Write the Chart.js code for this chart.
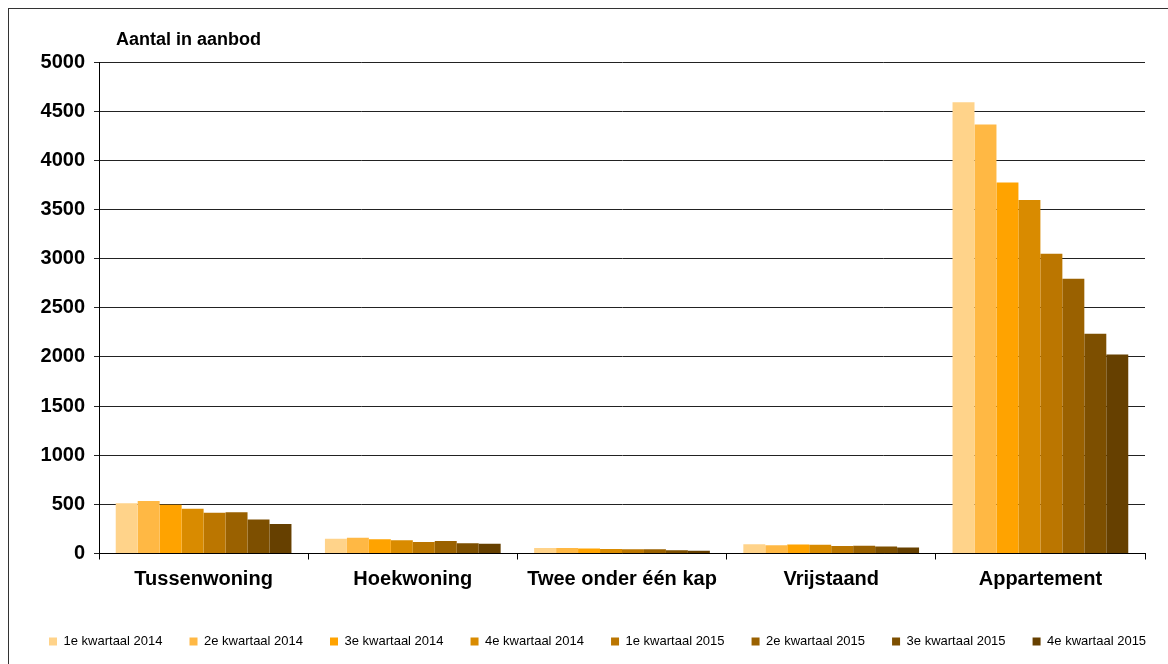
<!DOCTYPE html>
<html>
<head>
<meta charset="utf-8">
<script src="https://cdn.jsdelivr.net/npm/chart.js@4/dist/chart.umd.min.js"></script>
<style>
    html, body { margin: 0; padding: 0; background: #fff; overflow: hidden; }
    #frame { position: absolute; left: 8px; top: 8px; width: 1200px; height: 700px; border: 1px solid #333; }
    #chart { position: absolute; left: 0; top: 0; }
</style>
</head>
<body>
<div id="frame"></div>
<canvas id="chart" width="1200" height="664"></canvas>
<script>
// Categories and series
const categories = ['Tussenwoning', 'Hoekwoning', 'Twee onder één kap', 'Vrijstaand', 'Appartement'];
const seriesNames = ['1e kwartaal 2014', '2e kwartaal 2014', '3e kwartaal 2014', '4e kwartaal 2014',
    '1e kwartaal 2015', '2e kwartaal 2015', '3e kwartaal 2015', '4e kwartaal 2015'];
const q1_2014 = [510, 150, 55, 95, 4590];
const q2_2014 = [535, 160, 55, 85, 4365];
const q3_2014 = [495, 145, 52, 92, 3775];
const q4_2014 = [455, 135, 47, 88, 3595];
const q1_2015 = [415, 118, 44, 76, 3050];
const q2_2015 = [420, 128, 44, 80, 2795];
const q3_2015 = [345, 105, 34, 71, 2235];
const q4_2015 = [300, 98, 27, 62, 2025];
const yTicks = [0, 500, 1000, 1500, 2000, 2500, 3000, 3500, 4000, 4500, 5000];

const seriesValues = [q1_2014, q2_2014, q3_2014, q4_2014, q1_2015, q2_2015, q3_2015, q4_2015];
const colors = ['#FFD38A', '#FFB844', '#FFA300', '#D98B00', '#BB7600', '#9A6100', '#7D4F00', '#664000'];
const fontFamily = '"Liberation Sans", Arial, sans-serif';

// Title text above the value axis
const axisTitlePlugin = {
    id: 'axisTitle',
    afterDraw(chart) {
        const ctx = chart.ctx;
        ctx.save();
        ctx.font = 'bold 18px ' + fontFamily;
        ctx.fillStyle = '#000';
        ctx.textBaseline = 'middle';
        ctx.textAlign = 'left';
        ctx.fillText('Aantal in aanbod', 116, 40);
        ctx.restore();
    }
};

new Chart(document.getElementById('chart'), {
    type: 'bar',
    data: {
        labels: categories,
        datasets: seriesNames.map((name, i) => ({
            label: name,
            data: seriesValues[i],
            backgroundColor: colors[i],
            borderWidth: 0,
            categoryPercentage: 0.84,
            barPercentage: 1.0
        }))
    },
    options: {
        responsive: false,
        animation: false,
        layout: {
            padding: { left: 22, right: 0, top: 62, bottom: 6 }
        },
        plugins: {
            legend: {
                position: 'bottom',
                align: 'start',
                labels: {
                    boxWidth: 8,
                    boxHeight: 8,
                    padding: 27,
                    color: '#000',
                    font: { family: fontFamily, size: 13 }
                }
            },
            tooltip: { enabled: false }
        },
        scales: {
            x: {
                grid: {
                    offset: true,
                    drawOnChartArea: false,
                    tickLength: 6,
                    color: '#000'
                },
                border: { color: '#000', width: 1 },
                ticks: {
                    color: '#000',
                    padding: 8,
                    font: { family: fontFamily, size: 20, weight: 'bold' }
                },
                afterFit(scale) { scale.height = 54.5; }
            },
            y: {
                min: 0,
                max: 5000,
                afterBuildTicks(scale) { scale.ticks = yTicks.map(v => ({ value: v })); },
                grid: { color: '#222', tickLength: 5 },
                border: { color: '#000', width: 1 },
                ticks: {
                    color: '#000',
                    padding: 9,
                    font: { family: fontFamily, size: 20, weight: 'bold' },
                    callback: (value) => String(value)
                },
                afterFit(scale) { scale.width = 77; }
            },
            // spacer on the right so the plot ends where the reference does
            yRight: {
                position: 'right',
                grid: { display: false },
                border: { display: false },
                ticks: { display: false },
                afterFit(scale) { scale.width = 55; }
            }
        }
    },
    plugins: [axisTitlePlugin]
});
</script>
</body>
</html>
